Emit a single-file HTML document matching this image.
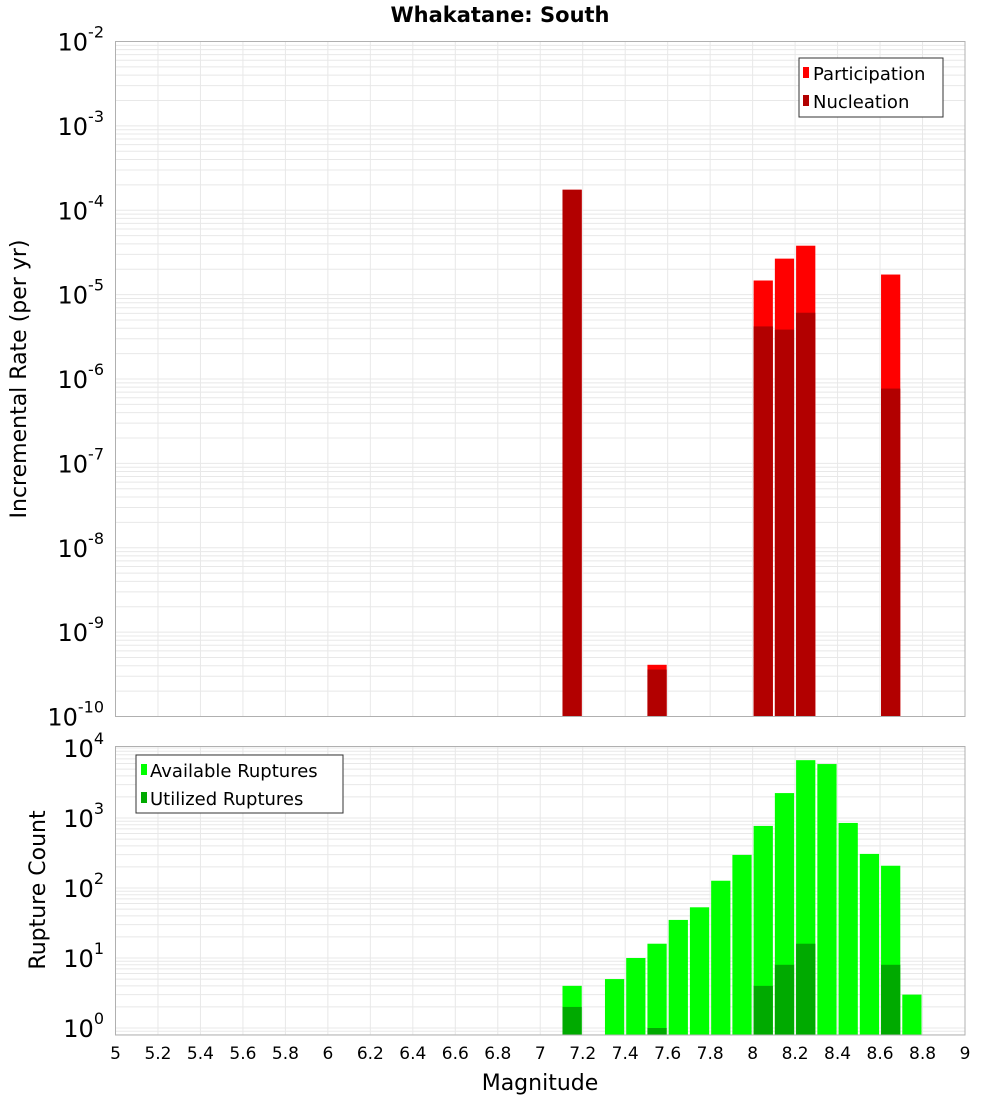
<!DOCTYPE html>
<html><head><meta charset="utf-8"><style>
body{margin:0;background:#fff}
svg{display:block;font-family:"DejaVu Sans","Liberation Sans",sans-serif}
</style></head><body>
<svg id="chart" width="1000" height="1100" xmlns="http://www.w3.org/2000/svg">
<rect width="1000" height="1100" fill="#fff"/>
<text x="500" y="22" text-anchor="middle" font-size="21" font-weight="bold">Whakatane: South</text>
<g id="top"></g><g id="bot"></g>
</svg>
<script>
const magsRate = [7.1, 7.5, 8.0, 8.1, 8.2, 8.6];
const participation = [1.75e-4, 4.1e-10, 1.47e-5, 2.67e-5, 3.8e-5, 1.73e-5];
const nucleation = [1.75e-4, 3.6e-10, 4.2e-6, 3.85e-6, 6.1e-6, 7.7e-7];
const magsCount = [7.1, 7.3, 7.4, 7.5, 7.6, 7.7, 7.8, 7.9, 8.0, 8.1, 8.2, 8.3, 8.4, 8.5, 8.6, 8.7];
const available = [4, 5, 10, 16, 35, 53, 127, 297, 770, 2270, 6700, 5900, 850, 307, 208, 3];
const utilizedMags = [7.1, 7.5, 8.0, 8.1, 8.2, 8.6];
const utilized = [2, 1, 4, 8, 16, 8];
const xTicks = [5,5.2,5.4,5.6,5.8,6,6.2,6.4,6.6,6.8,7,7.2,7.4,7.6,7.8,8,8.2,8.4,8.6,8.8,9];

const NS = "http://www.w3.org/2000/svg";
function mk(parent, tag, attrs){const e=document.createElementNS(NS,tag);for(const k in attrs)e.setAttribute(k,attrs[k]);parent.appendChild(e);return e;}
const X0=115.5, X1=965;
const xs = m => X0 + (m-5)*(X1-X0)/4;

function panel(g, top, bottom, ymin, ymax){
  const ys = v => bottom - (Math.log10(v)-ymin)/(ymax-ymin)*(bottom-top);
  // grid
  for(let d=Math.floor(ymin); d<=Math.ceil(ymax); d++){
    for(let k=1;k<10;k++){
      const lv=d+Math.log10(k); if(lv<ymin||lv>ymax) continue;
      const y=ys(Math.pow(10,lv));
      const l=mk(g,'line',{x1:X0,x2:X1,y1:y,y2:y,stroke:'#e8e8e8','stroke-width':1});
      
      
    }
  }
  xTicks.forEach(t=>{
    const l=mk(g,'line',{x1:xs(t),x2:xs(t),y1:top,y2:bottom,stroke:'#e8e8e8','stroke-width':1});
    
    
  });
  return ys;
}
function frame(g, top, bottom){
  const r=mk(g,'rect',{x:X0,y:top,width:X1-X0,height:bottom-top,fill:'none',stroke:'#b0b0b0','stroke-width':1});
  
  
}
function bar(g, m, v, ys, bottom, color, name){
  const y=ys(v);
  const r=mk(g,'rect',{x:xs(m)+1,y:y,width:xs(m+0.1)-xs(m)-2,height:bottom-y,fill:color});
  
  
}
function ylabels(g, ys, from, to){
  for(let d=from; d<=to; d++){
    const y=ys(Math.pow(10,d));
    const t=mk(g,'text',{x:104,y:y+9,'text-anchor':'end','font-size':24});
    
    
    t.textContent='10';
    const s=mk(t,'tspan',{dy:-13,'font-size':16});
    s.textContent=String(d);
  }
}

// top panel
const gt=document.getElementById('top');
const T0=41.5, T1=716.5;
const yt=panel(gt,T0,T1,-10,-2);
magsRate.forEach((m,i)=>bar(gt,m,participation[i],yt,T1,'#ff0000','participation-bar'));
magsRate.forEach((m,i)=>bar(gt,m,nucleation[i],yt,T1,'#b20000','nucleation-bar'));
frame(gt,T0,T1);
ylabels(gt,yt,-10,-2);
let yt1=mk(gt,'text',{x:26,y:379,'text-anchor':'middle','font-size':22,transform:'rotate(-90 26 379)'});


yt1.textContent='Incremental Rate (per yr)';
// legend top
let lg=mk(gt,'g',{});


mk(lg,'rect',{x:799,y:58,width:144,height:59,fill:'#fff',stroke:'#333','stroke-width':1});
mk(lg,'rect',{x:803,y:67,width:6,height:11,fill:'#ff0000'});
mk(lg,'rect',{x:803,y:95,width:6,height:11,fill:'#b20000'});
let e1=mk(lg,'text',{x:813,y:80,'font-size':18});e1.textContent='Participation';


let e2=mk(lg,'text',{x:813,y:108,'font-size':18});e2.textContent='Nucleation';



// bottom panel
const gb=document.getElementById('bot');
const B0=746.5, B1=1035;
const PX=70, Y0PIX=1028;
const bmin=-(B1-Y0PIX)/PX, bmax=(Y0PIX-B0)/PX;
const yb=panel(gb,B0,B1,bmin,bmax);
magsCount.forEach((m,i)=>bar(gb,m,available[i],yb,B1,'#00ff00','available-bar'));
utilizedMags.forEach((m,i)=>bar(gb,m,utilized[i],yb,B1,'#00aa00','utilized-bar'));
frame(gb,B0,B1);
ylabels(gb,yb,0,4);
let yt2=mk(gb,'text',{x:45,y:890,'text-anchor':'middle','font-size':22,transform:'rotate(-90 45 890)'});


yt2.textContent='Rupture Count';
let lb=mk(gb,'g',{});


mk(lb,'rect',{x:136,y:755,width:207,height:58,fill:'#fff',stroke:'#333','stroke-width':1});
mk(lb,'rect',{x:141,y:764,width:6,height:11,fill:'#00ff00'});
mk(lb,'rect',{x:141,y:792,width:6,height:11,fill:'#00aa00'});
let e3=mk(lb,'text',{x:150,y:777,'font-size':18});e3.textContent='Available Ruptures';


let e4=mk(lb,'text',{x:150,y:805,'font-size':18});e4.textContent='Utilized Ruptures';



xTicks.forEach(t=>{
  const tx=mk(gb,'text',{x:xs(t),y:1059,'text-anchor':'middle','font-size':17});
  
  
  tx.textContent=String(t);
});
let xt=mk(gb,'text',{x:540,y:1090,'text-anchor':'middle','font-size':22});


xt.textContent='Magnitude';
</script>
</body></html>
